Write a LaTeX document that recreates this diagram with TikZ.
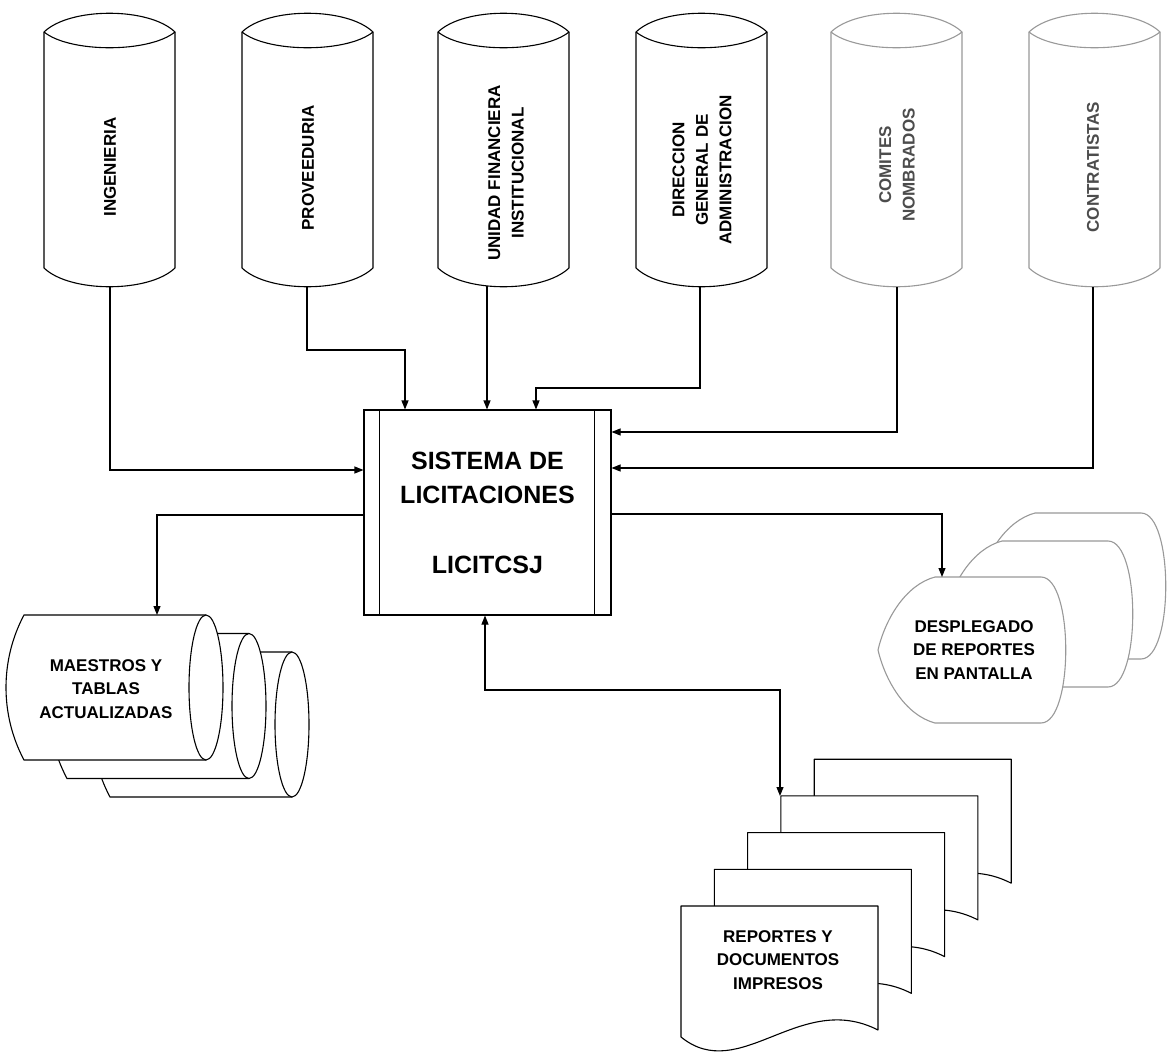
\documentclass[tikz,border=0pt]{standalone}
\usepackage{fontspec}
\setmainfont{Liberation Sans}
\usetikzlibrary{arrows.meta}
\newcommand{\VCylinder}[2]{%
  \path[draw=#2, fill=white, line join=round] (#1,32) -- (#1,268) .. controls ({#1+26},293) and ({#1+105},293) .. ({#1+131},268) -- ({#1+131},32) .. controls ({#1+105},7) and ({#1+26},7) .. (#1,32) -- cycle;
  \draw[#2] (#1,32) .. controls ({#1+26},53) and ({#1+105},53) .. ({#1+131},32);
}
\newcommand{\DispShape}{%
  \path[draw=black!40, fill=white] (935,577) -- (1041,577) .. controls (1074,577) and (1074,723) .. (1041,723) -- (935,723) .. controls (905,715) and (885,680) .. (878,650) .. controls (885,620) and (905,585) .. (935,577) -- cycle;
}
\newcommand{\DocShape}{%
  \path[draw, fill=white, line join=round] (681,906) -- (878,906) -- (878,1030) .. controls (800,990) and (740,1085) .. (681,1037) -- cycle;
}
\newcommand{\HCylinder}{%
  \fill[white] (24,615) -- (206,615) -- (206,760) -- (24,760) .. controls (0,715) and (0,660) .. (24,615) -- cycle;
  \draw (206,615) -- (24,615) .. controls (0,660) and (0,715) .. (24,760) -- (206,760);
  \draw[fill=white] (206,687.5) ellipse [x radius=17, y radius=72.5];
}
\begin{document}
\begin{tikzpicture}[x=1pt,y=-1pt, line width=1.1pt,
  arr/.style={-{Triangle[length=9pt,width=7pt]}},
  lab/.style={font=\bfseries\fontsize{17}{23.5}\selectfont, align=center, inner sep=0pt}]
\useasboundingbox[fill=white] (0,0) rectangle (1167,1057);

% display stack
\begin{scope}[shift={(100,-64)}]\DispShape\end{scope}
\begin{scope}[shift={(67,-36)}]\DispShape\end{scope}
\DispShape
% document stack
\foreach \k in {4,3,2,1,0}{
  \begin{scope}[shift={({33.3*\k},{-36.7*\k})}]\DocShape\end{scope}
}
% maestros stack
\begin{scope}[shift={(86,37)}]\HCylinder\end{scope}
\begin{scope}[shift={(43,18.5)}]\HCylinder\end{scope}
\HCylinder

% vertical cylinders
\VCylinder{44}{black}
\VCylinder{242}{black}
\VCylinder{438}{black}
\VCylinder{636}{black}
\VCylinder{831}{black!40}
\VCylinder{1029}{black!40}

\node[lab, rotate=90] (ing) at (110,167) {INGENIERIA};
\node[lab, rotate=90] (prov) at (308,168) {PROVEEDURIA};
\node[lab, rotate=90] (unid) at (506,173) {UNIDAD FINANCIERA\\INSTITUCIONAL};
\node[lab, rotate=90] (dir) at (702,170) {DIRECCION\\GENERAL DE\\ADMINISTRACION};
\node[lab, rotate=90, text=black!70] (com) at (897,165) {COMITES\\NOMBRADOS};
\node[lab, rotate=90, text=black!70] (con) at (1093,167) {CONTRATISTAS};

\node[lab] (mae) at (106,689) {MAESTROS Y\\TABLAS\\ACTUALIZADAS};
\node[lab] (desp) at (974,650) {DESPLEGADO\\DE REPORTES\\EN PANTALLA};
\node[lab] (rep) at (778,960) {REPORTES Y\\DOCUMENTOS\\IMPRESOS};

% central box
\node[draw, fill=white, minimum width=247pt, minimum height=205pt, inner sep=0pt,
  font=\bfseries\fontsize{25}{34}\selectfont, align=center] (sys) at (487.5,512.5)
  {SISTEMA DE\\LICITACIONES\\[36pt]LICITCSJ};
\draw ([xshift=16pt]sys.north west) -- ([xshift=16pt]sys.south west);
\draw ([xshift=-17pt]sys.north east) -- ([xshift=-17pt]sys.south east);

% connectors
\coordinate (ingb) at (110,287); \coordinate (ingk) at (110,470);
\draw[arr] (ingb) -- (ingk) -- (ingk -| sys.west);
\coordinate (provb) at (307,287); \coordinate (provk) at (405,350);
\draw[arr] (provb) |- (provk) -- (provk |- sys.north);
\coordinate (unidb) at (487,286);
\draw[arr] (unidb) -- (unidb |- sys.north);
\coordinate (dirb) at (700,287); \coordinate (dirk) at (536,388);
\draw[arr] (dirb) |- (dirk) -- (dirk |- sys.north);
\coordinate (comb) at (897,287); \coordinate (comk) at (897,432);
\draw[arr] (comb) -- (comk) -- (comk -| sys.east);
\coordinate (conb) at (1093,287); \coordinate (conk) at (1093,468);
\draw[arr] (conb) -- (conk) -- (conk -| sys.east);
\coordinate (maek) at (157,515); \coordinate (maetop) at (157,615);
\draw[arr] (maek -| sys.west) -- (maek) -- (maetop);
\coordinate (despk) at (942,514); \coordinate (desptop) at (942,577);
\draw[arr] (despk -| sys.east) -- (despk) -- (desptop);
\coordinate (repk) at (485,690); \coordinate (repk2) at (780,690); \coordinate (doctop) at (780,796);
\draw[{Triangle[length=9pt,width=7pt]}-{Triangle[length=9pt,width=7pt]}] (repk |- sys.south) -- (repk) -- (repk2) -- (doctop);
\end{tikzpicture}
\end{document}
